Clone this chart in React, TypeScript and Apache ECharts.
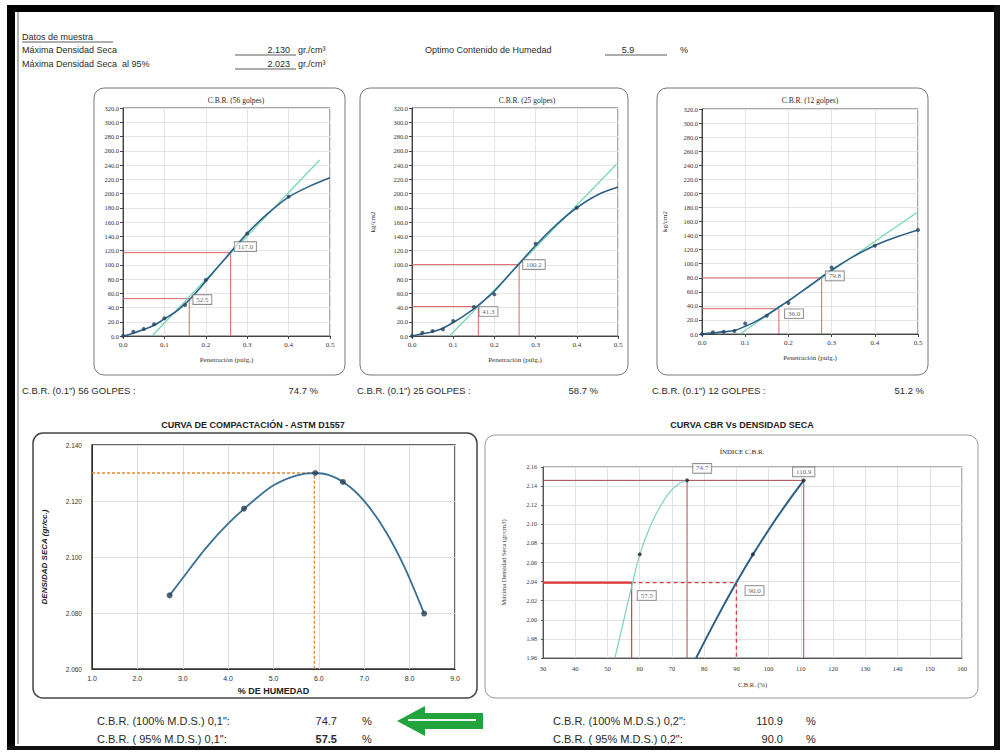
import React, { useEffect, useRef } from "react";
import * as echarts from "echarts";

// ---------------- DATA ----------------
// CBR penetration tests (penetration in inches, load in kg/cm2)
const PEN_STD = [0, 0.025, 0.05, 0.075, 0.1, 0.15, 0.2, 0.3, 0.4, 0.5];
const LOAD_56 = [0, 6.1, 9.8, 16.4, 24.8, 43.5, 78.6, 144.0, 195.6];
const LOAD_25 = [0, 4.7, 7.0, 9.3, 21.0, 40.7, 58.4, 129.4, 180.0];
const LOAD_12 = [0, 2.4, 3.3, 4.3, 15.1, 26.0, 44.0, 94.7, 125.4, 148.0];

// fitted curves
const CURVE_PEN = [0, 0.025, 0.05, 0.075, 0.1, 0.125, 0.15, 0.175, 0.2, 0.25, 0.3, 0.35, 0.4, 0.45, 0.5];
const CURVE_56 = [0, 4, 9, 15, 24, 33, 45, 60, 77, 111, 144, 172, 195, 210, 222];
const CURVE_25 = [0, 3, 6, 11, 19, 28, 38, 50, 63, 95, 127, 156, 180, 198, 209];
const CURVE_12 = [0, 1.5, 3, 5, 11, 18, 27, 37, 47, 69, 91, 110, 126, 138, 148];

// tangent (correction) lines: [pen start, pen end], [load start, load end]
const TAN_PEN_56 = [0.07, 0.475];
const TAN_LOAD_56 = [0, 247];
const TAN_PEN_25 = [0.091, 0.496];
const TAN_LOAD_25 = [0, 240.7];
const TAN_PEN_12 = [0.088, 0.5];
const TAN_LOAD_12 = [0, 173.7];

// corrected penetrations (0.1" and 0.2") and loads read there
const CORR_PEN_56 = [0.16, 0.26];
const REF_LOAD_56 = [52.5, 117.0];
const CORR_PEN_25 = [0.161, 0.26];
const REF_LOAD_25 = [41.3, 100.2];
const CORR_PEN_12 = [0.178, 0.277];
const REF_LOAD_12 = [36.0, 79.8];

// Compaction curve
const HUMEDAD = [2.71, 4.35, 5.92, 6.53, 8.32];
const DENSIDAD = [2.0863, 2.1173, 2.13, 2.1268, 2.0798];
const CURVE_HUM = [2.71, 3.0, 3.5, 4.0, 4.5, 5.0, 5.5, 5.9, 6.3, 6.7, 7.1, 7.5, 7.9, 8.32];
const CURVE_DEN = [2.0863, 2.0925, 2.103, 2.1119, 2.1193, 2.1256, 2.1291, 2.13, 2.1288, 2.1248, 2.118, 2.1084, 2.0959, 2.0798];
const OPT_HUM = 5.9;
const MAX_DEN = 2.13;

// CBR vs dry density
const CBR01_CURVE = [52.3, 54.9, 57.8, 60.05, 63.2, 66.3, 69.4, 72.5, 74.7];
const DEN01_CURVE = [1.96, 1.9972, 2.039, 2.0685, 2.0974, 2.1183, 2.1339, 2.1433, 2.146];
const CBR02_CURVE = [77.5, 84.0, 90.0, 95.0, 100.5, 105.7, 110.9];
const DEN02_CURVE = [1.96, 2.0023, 2.039, 2.0675, 2.0967, 2.1222, 2.146];
const CBR01_PTS = [74.7, 60.0];
const CBR02_PTS = [110.9, 95.1];
const DEN_PTS = [2.146, 2.0685];
const DEN_100 = 2.146;
const DEN_95 = 2.039;
const CBR_100_01 = 74.7;
const CBR_95_01 = 57.5;
const CBR_100_02 = 110.9;
const CBR_95_02 = 90.0;

// ---------------- STYLE ----------------
const SERIF = "Liberation Serif";
const SANS = "Liberation Sans";
const CURVE_C = "#2e6189";
const TAN_C = "#72d6b6";
const PT_C = "#25445f";
const RED = "#e06464";

const zip = (a: number[], b: number[]) => a.map((v, i) => [v, b[i]]);

function topX(gi: number) {
  return {
    type: "value", gridIndex: gi, min: 0, max: 0.5, interval: 0.1,
    name: "Penetración (pulg.)", nameLocation: "middle", nameGap: 20,
    nameTextStyle: { fontFamily: SERIF, fontSize: 7, color: "#333" },
    axisLine: { show: true, onZero: false, lineStyle: { color: "#444" } },
    axisTick: { show: true, length: 3, lineStyle: { color: "#444" } },
    axisLabel: { fontFamily: SERIF, fontSize: 7, color: "#333", margin: 5, formatter: (v: number) => v.toFixed(1) },
    splitLine: { show: true, lineStyle: { color: "#e4e4e4" } },
  };
}
function topY(gi: number, withName: boolean, gap: number) {
  return {
    type: "value", gridIndex: gi, min: 0, max: 320, interval: 20,
    name: withName ? "kg/cm2" : "", nameLocation: "middle", nameGap: gap,
    nameTextStyle: { fontFamily: SERIF, fontSize: 7, color: "#333" },
    axisLine: { show: true, onZero: false, lineStyle: { color: "#444" } },
    axisTick: { show: true, length: 3, lineStyle: { color: "#444" } },
    axisLabel: { fontFamily: SERIF, fontSize: 6.5, color: "#333", margin: 4, formatter: (v: number) => v.toFixed(1) },
    splitLine: { show: true, lineStyle: { color: "#e4e4e4" } },
  };
}

function line(gi: number, data: number[][], color: string, width: number, extra: any = {}) {
  return {
    type: "line", xAxisIndex: gi, yAxisIndex: gi, data, symbol: "none", showSymbol: false,
    lineStyle: { color, width, ...(extra.lineStyle || {}) }, silent: true, z: extra.z ?? 3,
    smooth: extra.smooth ?? false,
  };
}
function dots(gi: number, data: number[][], size: number, color: string) {
  return { type: "scatter", xAxisIndex: gi, yAxisIndex: gi, data, symbolSize: size, itemStyle: { color }, z: 5, silent: true };
}
function boxLabel(gi: number, x: number, y: number, text: string, position: string, offset: number[], distance = 4) {
  return {
    type: "scatter", xAxisIndex: gi, yAxisIndex: gi, symbolSize: 0, z: 6, silent: true,
    data: [{ value: [x, y], name: text }],
    label: {
      show: true, formatter: "{b}", position, distance, offset,
      backgroundColor: "#fff", borderColor: "#666", borderWidth: 0.8, padding: [1, 3],
      fontFamily: SERIF, fontSize: 7, color: "#333",
    },
  };
}
function topChartSeries(gi: number, pen: number[], load: number[], curve: number[], tp: number[], tl: number[], cp: number[], rl: number[], offs: number[][]) {
  return [
    line(gi, zip(CURVE_PEN, curve), CURVE_C, 1.6, { smooth: 0.3, z: 4 }),
    line(gi, zip(tp, tl), TAN_C, 1.2, { z: 3 }),
    line(gi, [[0, rl[0]], [cp[0], rl[0]], [cp[0], 0]], RED, 1, { z: 2 }),
    line(gi, [[0, rl[1]], [cp[1], rl[1]], [cp[1], 0]], RED, 1, { z: 2 }),
    dots(gi, zip(pen.slice(0, load.length), load), 4, PT_C),
    boxLabel(gi, cp[0], rl[0], rl[0].toFixed(1), "right", offs[0]),
    boxLabel(gi, cp[1], rl[1], rl[1].toFixed(1), "right", offs[1]),
  ];
}

function txt(x: number, y: number, text: string, o: any = {}) {
  return {
    type: "text", x, y, silent: true, z: 10,
    style: {
      text, fill: o.fill || "#2a2a2a", fontSize: o.size || 9, fontFamily: o.family || SANS,
      fontWeight: o.weight || "normal", fontStyle: o.style || "normal",
      align: o.align || "left", verticalAlign: "middle",
    },
  };
}
function hline(x1: number, x2: number, y: number, color = "#333", w = 0.8) {
  return { type: "line", silent: true, shape: { x1, y1: y, x2, y2: y }, style: { stroke: color, lineWidth: w } };
}
function box(x: number, y: number, w: number, h: number, stroke: string, lw: number) {
  return { type: "rect", silent: true, z: 1, shape: { x, y, width: w, height: h, r: 10 }, style: { fill: "none", stroke, lineWidth: lw } };
}

export default function App() {
  const ref = useRef<HTMLDivElement>(null);
  useEffect(() => {
    if (!ref.current) return;
    const chart = echarts.init(ref.current, undefined, { renderer: "svg" });

    const grids = [
      { left: 123, top: 108, width: 207, height: 228, show: true, borderColor: "#555", borderWidth: 1 },
      { left: 412, top: 108, width: 206, height: 228, show: true, borderColor: "#555", borderWidth: 1 },
      { left: 702, top: 109, width: 216, height: 225, show: true, borderColor: "#555", borderWidth: 1 },
      { left: 92, top: 445, width: 363, height: 224, show: true, borderColor: "#333", borderWidth: 1.5 },
      { left: 543, top: 467, width: 419, height: 191, show: true, borderColor: "#666", borderWidth: 1 },
    ];

    const xAxis: any[] = [
      topX(0), topX(1), topX(2),
      {
        type: "value", gridIndex: 3, min: 1, max: 9, interval: 1,
        name: "% DE HUMEDAD", nameLocation: "middle", nameGap: 17,
        nameTextStyle: { fontFamily: SANS, fontSize: 9, fontWeight: "bold", color: "#222" },
        axisLine: { show: true, onZero: false, lineStyle: { color: "#333" } },
        axisTick: { show: false },
        axisLabel: { fontFamily: SANS, fontSize: 7, color: "#333", margin: 6, formatter: (v: number) => v.toFixed(1) },
        splitLine: { show: true, lineStyle: { color: "#dedede" } },
      },
      {
        type: "value", gridIndex: 4, min: 30, max: 160, interval: 10,
        name: "C.B.R. (%)", nameLocation: "middle", nameGap: 23,
        nameTextStyle: { fontFamily: SERIF, fontSize: 6.5, color: "#333" },
        axisLine: { show: true, onZero: false, lineStyle: { color: "#555" } },
        axisTick: { show: false },
        axisLabel: { fontFamily: SERIF, fontSize: 6.5, color: "#333", margin: 7, formatter: (v: number) => String(Math.round(v)) },
        splitLine: { show: true, lineStyle: { color: "#e2e2e2" } },
      },
    ];
    const yAxis: any[] = [
      topY(0, false, 30), topY(1, true, 36), topY(2, true, 34),
      {
        type: "value", gridIndex: 3, min: 2.06, max: 2.14, interval: 0.02,
        name: "DENSIDAD SECA (gr/cc.)", nameLocation: "middle", nameGap: 44,
        nameTextStyle: { fontFamily: SANS, fontSize: 8, fontWeight: "bold", fontStyle: "italic", color: "#222" },
        axisLine: { show: true, onZero: false, lineStyle: { color: "#333" } },
        axisTick: { show: false },
        axisLabel: { fontFamily: SANS, fontSize: 6.5, color: "#333", margin: 10, formatter: (v: number) => v.toFixed(3) },
        splitLine: { show: true, lineStyle: { color: "#dedede" } },
      },
      {
        type: "value", gridIndex: 4, min: 1.96, max: 2.16, interval: 0.02,
        name: "Máxima Densidad Seca (gr/cm3)", nameLocation: "middle", nameGap: 36,
        nameTextStyle: { fontFamily: SERIF, fontSize: 6.5, color: "#333" },
        axisLine: { show: true, onZero: false, lineStyle: { color: "#555" } },
        axisTick: { show: true, length: 2 },
        axisLabel: { fontFamily: SERIF, fontSize: 6, color: "#333", margin: 6, formatter: (v: number) => v.toFixed(2) },
        splitLine: { show: true, lineStyle: { color: "#e2e2e2" } },
      },
    ];

    const series: any[] = [
      ...topChartSeries(0, PEN_STD, LOAD_56, CURVE_56, TAN_PEN_56, TAN_LOAD_56, CORR_PEN_56, REF_LOAD_56, [[0, 1], [0, -6]]),
      ...topChartSeries(1, PEN_STD, LOAD_25, CURVE_25, TAN_PEN_25, TAN_LOAD_25, CORR_PEN_25, REF_LOAD_25, [[-3, 5], [0, 0]]),
      ...topChartSeries(2, PEN_STD, LOAD_12, CURVE_12, TAN_PEN_12, TAN_LOAD_12, CORR_PEN_12, REF_LOAD_12, [[2, 5], [0, -2]]),
      // compaction
      line(3, [[1, MAX_DEN], [OPT_HUM, MAX_DEN], [OPT_HUM, 2.06]], "#e8892f", 1.3, { lineStyle: { type: [3, 2] }, z: 2 }),
      line(3, zip(CURVE_HUM, CURVE_DEN), "#3a6f96", 1.8, { smooth: 0.25, z: 4 }),
      dots(3, zip(HUMEDAD, DENSIDAD), 6, "#2b3f55"),
      // CBR vs density
      line(4, [[30, DEN_100], [CBR_100_02, DEN_100]], "#a04848", 1, { z: 2 }),
      line(4, [[CBR_100_01, 1.96], [CBR_100_01, DEN_100]], "#b05050", 1, { z: 2 }),
      line(4, [[CBR_100_02, 1.96], [CBR_100_02, DEN_100]], "#b05050", 1, { z: 2 }),
      line(4, [[30, DEN_95], [CBR_95_01, DEN_95], [CBR_95_01, 1.96]], "#e03c3c", 1.2, { z: 2 }),
      line(4, [[30, DEN_95], [CBR_95_01, DEN_95]], "#e03c3c", 2.2, { z: 2 }),
      line(4, [[CBR_95_01, DEN_95], [CBR_95_02, DEN_95], [CBR_95_02, 1.96]], "#d84040", 1.3, { lineStyle: { type: [4, 3] }, z: 2 }),
      line(4, zip(CBR01_CURVE, DEN01_CURVE), "#7fd0c0", 1.2, { smooth: 0.4, z: 4 }),
      line(4, zip(CBR02_CURVE, DEN02_CURVE), "#2d5f86", 2, { smooth: 0.4, z: 4 }),
      dots(4, zip(CBR01_PTS, DEN_PTS), 4, "#223"),
      dots(4, zip(CBR02_PTS, DEN_PTS), 4, "#223"),
      boxLabel(4, CBR_100_01, DEN_100, CBR_100_01.toFixed(1), "right", [2, -12]),
      boxLabel(4, CBR_100_02, DEN_100, CBR_100_02.toFixed(1), "top", [0, 0], 4),
      boxLabel(4, CBR_95_01, DEN_95, CBR_95_01.toFixed(1), "right", [2, 13]),
      boxLabel(4, CBR_95_02, DEN_95, CBR_95_02.toFixed(1), "right", [5, 8]),
    ];

    const graphic: any[] = [
      // scanned page frame
      { type: "rect", silent: true, shape: { x: 7, y: 5, width: 993, height: 7 }, style: { fill: "#000" } },
      { type: "rect", silent: true, shape: { x: 7, y: 5, width: 8, height: 744 }, style: { fill: "#000" } },
      { type: "rect", silent: true, shape: { x: 994, y: 5, width: 6, height: 744 }, style: { fill: "#111" } },
      { type: "rect", silent: true, shape: { x: 7, y: 746, width: 993, height: 4 }, style: { fill: "#111" } },
      { type: "line", silent: true, shape: { x1: 18, y1: 12, x2: 18, y2: 744 }, style: { stroke: "#9a9a9a", lineWidth: 1.5 } },

      // header
      txt(22, 37, "Datos de muestra", { size: 9 }),
      hline(22, 113, 42),
      txt(22, 50, "Máxima Densidad Seca", { size: 9 }),
      txt(22, 64, "Máxima Densidad Seca  al 95%", { size: 9 }),
      txt(290, 50, "2.130", { size: 9, align: "right" }),
      hline(235, 296, 55),
      txt(298, 50, "gr./cm³", { size: 9 }),
      txt(290, 64, "2.023", { size: 9, align: "right" }),
      hline(235, 296, 69),
      txt(298, 64, "gr./cm³", { size: 9 }),
      txt(425, 50, "Optimo Contenido de Humedad", { size: 9 }),
      txt(628, 50, "5.9", { size: 9, align: "center" }),
      hline(605, 667, 55),
      txt(680, 50, "%", { size: 9 }),

      // top chart boxes + titles
      box(94, 88, 251, 287, "#777", 1),
      box(360, 88, 268, 287, "#777", 1),
      box(657, 88, 271, 287, "#777", 1),
      txt(236, 100, "C.B.R. (56 golpes)", { family: SERIF, size: 7.5, align: "center" }),
      txt(527, 100, "C.B.R. (25 golpes)", { family: SERIF, size: 7.5, align: "center" }),
      txt(810, 100, "C.B.R. (12 golpes)", { family: SERIF, size: 7.5, align: "center" }),

      // CBR 0.1" summary row
      txt(22, 390, "C.B.R. (0.1\") 56 GOLPES :", { size: 9.5 }),
      txt(318, 390, "74.7 %", { size: 9.5, align: "right" }),
      txt(357, 390, "C.B.R. (0.1\") 25 GOLPES :", { size: 9.5 }),
      txt(598, 390, "58.7 %", { size: 9.5, align: "right" }),
      txt(652, 390, "C.B.R. (0.1\") 12 GOLPES :", { size: 9.5 }),
      txt(924, 390, "51.2 %", { size: 9.5, align: "right" }),

      // bottom chart titles + boxes
      txt(253, 425, "CURVA DE COMPACTACIÓN - ASTM D1557", { size: 9, weight: "bold", align: "center", fill: "#222" }),
      txt(742, 425, "CURVA CBR Vs DENSIDAD SECA", { size: 9, weight: "bold", align: "center", fill: "#222" }),
      box(33, 433, 444, 265, "#444", 1.5),
      box(485, 435, 493, 263, "#999", 1),
      txt(742, 452, "ÍNDICE C.B.R.", { family: SERIF, size: 7, align: "center" }),

      // bottom results
      txt(97, 721, "C.B.R. (100% M.D.S.) 0,1\":", { size: 11 }),
      txt(337, 721, "74.7", { size: 11, align: "right" }),
      txt(362, 721, "%", { size: 11 }),
      txt(97, 739, "C.B.R. ( 95% M.D.S.) 0,1\":", { size: 11 }),
      txt(337, 739, "57.5", { size: 11, align: "right", weight: "bold" }),
      txt(362, 739, "%", { size: 11 }),
      txt(553, 721, "C.B.R. (100% M.D.S.) 0,2\":", { size: 11 }),
      txt(783, 721, "110.9", { size: 11, align: "right" }),
      txt(806, 721, "%", { size: 11 }),
      txt(553, 739, "C.B.R. ( 95% M.D.S.) 0,2\":", { size: 11 }),
      txt(783, 739, "90.0", { size: 11, align: "right" }),
      txt(806, 739, "%", { size: 11 }),

      // green arrow
      {
        type: "polygon", silent: true, z: 9,
        shape: { points: [[397, 721], [425, 706], [425, 713], [483, 713], [483, 729], [425, 729], [425, 736]] },
        style: { fill: "#23a33c" },
      },
      { type: "line", silent: true, z: 10, shape: { x1: 408, y1: 720, x2: 476, y2: 720 }, style: { stroke: "#e8f5ea", lineWidth: 2 } },
    ];

    chart.setOption({
      animation: false,
      backgroundColor: "#fff",
      grid: grids,
      xAxis,
      yAxis,
      series,
      graphic,
    });
    return () => chart.dispose();
  }, []);

  return (
    <div
      ref={ref}
      style={{ position: "fixed", left: 0, top: 0, width: 1000, height: 753, background: "#fff" }}
    />
  );
}
